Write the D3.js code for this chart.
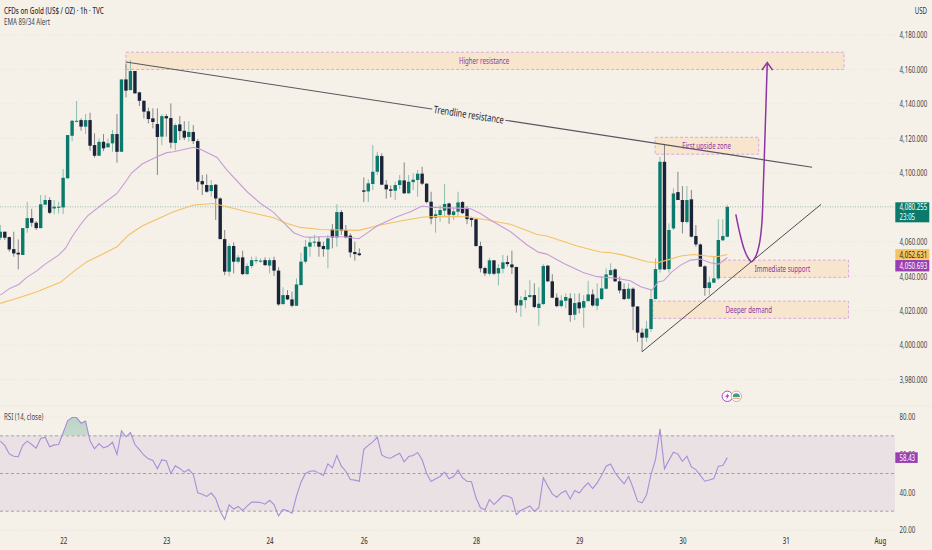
<!DOCTYPE html>
<html>
<head>
<meta charset="utf-8">
<script src="https://cdn.jsdelivr.net/npm/d3@7"></script>
<style>
  html, body { margin: 0; padding: 0; background: #f5f1e8; }
  svg { display: block; }
  text { font-family: "Noto Sans", sans-serif; }
</style>
</head>
<body>
<svg id="chart" width="932" height="550"></svg>
<script>
// candle data, one hour per slot
const opens = [4062.3,4065.8,4062.7,4055.7,4053.6,4052.3,4067.9,4073.7,4071.0,4067.9,
  4081.5,4084.2,4079.3,4079.7,4079.9,4096.8,4121.5,4129.7,4130.6,4126.8,
  4130.6,4116.1,4109.9,4118.0,4114.8,4117.1,4122.5,4112.2,4154.2,4148.0,
  4159.1,4146.7,4141.8,4135.7,4131.6,4128.3,4121.0,4132.9,4131.8,4117.3,
  4128.1,4124.4,4120.8,4123.7,4118.4,4095.2,4092.9,4089.4,4093.1,4085.1,
  4061.5,4042.6,4057.5,4048.4,4050.9,4041.2,4045.9,4049.0,4048.4,4049.3,
  4046.1,4049.3,4043.2,4023.8,4029.0,4026.5,4022.8,4034.8,4048.4,4057.1,
  4059.4,4060.0,4057.5,4055.5,4067.3,4062.5,4077.2,4066.8,4063.5,4054.0,
  4053.2,4089.8,4089.2,4093.5,4100.6,4109.7,4093.1,4090.4,4089.6,4092.9,
  4095.6,4088.1,4094.6,4095.8,4099.5,4093.7,4083.2,4073.9,4075.5,4078.0,
  4082.2,4075.5,4077.4,4083.0,4079.5,4073.7,4073.0,4057.5,4044.7,4041.4,
  4049.2,4041.6,4044.3,4048.2,4046.8,4045.3,4023.0,4026.1,4027.9,4029.0,
  4021.5,4023.8,4046.1,4037.0,4027.5,4022.6,4025.7,4027.1,4017.6,4024.8,
  4021.7,4025.5,4029.4,4022.8,4026.7,4032.7,4040.6,4043.9,4037.0,4032.5,
  4026.9,4032.7,4022.4,4007.2,4004.3,4009.3,4026.7,4043.9,4106.4,4044.1,
  4067.7,4088.8,4084.2,4071.4,4084.6,4063.3,4058.4,4045.7,4033.1,4036.2,
  4038.7,4060.8,4062.9]
const closes = [4065.8,4062.3,4055.5,4053.2,4052.6,4067.9,4073.7,4071.0,4067.9,4081.7,
  4084.2,4076.8,4080.3,4080.3,4097.1,4121.9,4130.2,4130.2,4126.8,4130.6,
  4115.7,4109.9,4118.0,4114.2,4117.1,4122.5,4112.2,4154.2,4147.7,4159.1,
  4146.1,4141.8,4135.5,4131.2,4129.5,4120.8,4132.9,4131.6,4117.5,4127.7,
  4124.2,4120.4,4123.7,4118.4,4094.8,4093.3,4089.0,4092.9,4085.1,4061.5,
  4042.6,4057.5,4048.4,4050.9,4041.2,4045.9,4049.3,4049.3,4049.0,4046.4,
  4049.3,4043.2,4023.6,4029.0,4026.5,4022.8,4035.2,4048.4,4057.1,4059.6,
  4060.0,4057.1,4055.7,4061.9,4062.5,4077.2,4066.4,4062.5,4053.8,4052.8,
  4052.2,4089.0,4093.9,4100.6,4109.9,4093.1,4090.4,4089.6,4092.9,4095.6,
  4088.1,4094.8,4096.0,4099.5,4093.7,4083.0,4073.5,4075.9,4078.4,4081.9,
  4075.7,4077.6,4082.8,4076.6,4073.1,4072.6,4057.5,4044.5,4041.6,4049.2,
  4041.4,4044.7,4048.0,4047.0,4045.1,4023.0,4026.1,4027.9,4029.0,4022.1,
  4024.0,4045.9,4037.0,4027.5,4022.6,4025.9,4027.9,4017.4,4024.4,4021.3,
  4025.5,4029.4,4023.0,4027.1,4032.9,4041.0,4043.5,4037.0,4031.7,4026.7,
  4032.7,4022.3,4007.2,4004.3,4009.5,4026.7,4044.1,4106.4,4043.9,4066.8,
  4088.0,4084.2,4071.4,4084.2,4062.9,4058.4,4045.5,4033.1,4036.4,4038.7,
  4061.0,4063.3,4080.2]
const highs = [4069.7,4065.8,4062.9,4065.8,4061.3,4067.9,4083.2,4079.1,4072.0,4087.1,
  4087.1,4085.7,4084.2,4083.2,4102.2,4121.9,4130.6,4141.7,4131.6,4134.1,
  4134.9,4122.9,4120.0,4122.5,4120.0,4124.8,4134.1,4154.2,4163.5,4165.5,
  4159.1,4147.1,4142.2,4137.8,4137.4,4137.4,4134.1,4134.1,4140.3,4128.7,
  4132.9,4130.0,4130.0,4127.7,4119.6,4098.7,4099.1,4095.8,4093.5,4085.7,
  4066.8,4059.0,4059.6,4052.3,4054.8,4047.4,4051.3,4051.3,4050.3,4050.9,
  4050.7,4051.3,4045.1,4033.5,4031.9,4031.0,4038.7,4053.6,4061.0,4062.9,
  4064.0,4062.9,4060.0,4063.9,4070.2,4081.7,4078.4,4069.7,4064.8,4060.0,
  4056.1,4097.3,4096.2,4116.1,4112.2,4111.3,4095.8,4092.7,4094.8,4098.7,
  4106.0,4098.7,4099.7,4101.6,4103.5,4093.9,4089.0,4078.4,4081.3,4093.5,
  4082.6,4079.3,4089.0,4083.6,4080.7,4074.5,4073.5,4060.0,4045.5,4050.7,
  4049.2,4047.0,4052.3,4051.9,4054.8,4045.5,4028.4,4031.9,4037.7,4035.8,
  4033.5,4047.0,4046.4,4041.2,4030.0,4029.0,4030.0,4030.0,4030.0,4030.0,
  4029.0,4037.3,4032.3,4035.8,4039.7,4044.5,4047.4,4044.5,4039.7,4035.8,
  4035.8,4033.5,4022.6,4009.7,4014.1,4031.9,4050.3,4109.3,4116.1,4070.6,
  4091.0,4100.6,4092.3,4092.3,4090.0,4069.7,4059.0,4046.4,4039.7,4051.3,
  4073.0,4073.0,4081.3]
const lows = [4061.0,4061.0,4054.2,4051.3,4043.9,4052.3,4065.2,4068.7,4066.8,4067.7,
  4081.3,4076.0,4076.0,4076.4,4076.0,4096.8,4118.4,4129.3,4124.4,4122.5,
  4112.8,4108.8,4109.9,4112.6,4114.8,4112.2,4105.9,4112.2,4143.8,4148.0,
  4146.1,4138.8,4131.6,4128.7,4125.8,4098.7,4116.1,4121.0,4114.2,4113.2,
  4119.0,4119.0,4118.0,4116.7,4090.0,4087.1,4088.4,4086.1,4072.6,4061.5,
  4040.6,4040.1,4041.6,4047.4,4040.6,4040.6,4044.5,4047.4,4047.8,4045.9,
  4041.6,4040.1,4022.8,4023.2,4026.1,4021.9,4022.8,4034.8,4047.4,4051.3,
  4057.1,4051.3,4051.3,4044.5,4056.1,4057.1,4063.9,4061.9,4050.9,4049.0,
  4051.7,4083.0,4083.0,4090.0,4098.7,4092.9,4085.0,4085.8,4084.2,4090.6,
  4087.7,4087.7,4090.0,4086.1,4092.9,4082.2,4070.1,4065.2,4071.6,4074.5,
  4070.4,4072.6,4074.5,4076.0,4070.2,4068.7,4057.1,4042.2,4040.1,4040.4,
  4040.6,4034.6,4041.6,4045.5,4041.2,4018.8,4016.4,4021.3,4027.1,4021.3,
  4011.2,4023.2,4036.6,4027.1,4021.9,4021.9,4021.3,4013.5,4014.5,4018.4,
  4010.1,4025.2,4022.3,4020.3,4026.1,4032.3,4040.3,4036.6,4030.0,4026.1,
  4026.5,4008.7,4001.9,3996.1,4001.9,4007.7,4026.5,4042.0,4043.5,4042.0,
  4066.8,4084.2,4064.8,4070.6,4062.5,4057.1,4045.5,4028.6,4029.0,4035.8,
  4037.7,4060.4,4062.5]

// moving averages: candle slot and value
const ema34Slot = [0,2.1,4.1,5.9,8.2,10,13,14.5,16,17.8,19.5,22.3,26,27.9,29.3,31.6,34.9,37.1,38.6,43.1,
  44.6,48.3,50.5,55,58,60.9,62.8,65.4,67.6,69.1,71.3,76.5,79.9,81.4,84,88.4,91.4,94,96.6,101.8,
  104.8,107,109.2,113.7,117.4,120,121.8,125.6,130,133,136,137.4,140.4,142.7,145.2,146.7,147.8,149.7,151.6,153.8,
  156,158.2,160.1,162]
const ema34 = [4029.0,4032.9,4035.2,4039.3,4043.2,4047.0,4052.2,4056.1,4062.9,4069.7,4075.1,4080.9,4088.0,4094.8,4100.0,4105.1,4109.3,4111.7,4112.2,4114.8,
  4113.6,4108.9,4101.6,4089.0,4082.2,4077.0,4072.0,4065.2,4062.9,4062.5,4062.9,4062.9,4061.7,4064.4,4069.3,4074.5,4077.4,4080.7,4079.9,4079.5,
  4079.1,4076.4,4072.6,4065.8,4058.1,4053.8,4052.8,4047.4,4042.0,4039.7,4039.1,4038.7,4037.3,4033.9,4031.9,4036.8,4037.3,4042.6,4046.4,4049.3,
  4049.9,4047.8,4047.0,4050.7]
const ema89Slot = [0,4.1,8.2,13.4,16.3,19.3,22.3,26,28.6,31.6,34.9,38.6,43.1,47.5,50.5,55,60.9,63.9,66.9,71.3,
  79.9,84.7,89.2,94.3,98.8,104,108.5,113.7,119.6,121.8,128.5,133.7,136,138.9,144.1,146.4,148.6,151.6,154.5,157.5,
  159.7,162]
const ema89 = [4024.2,4027.5,4031.0,4036.4,4042.6,4048.4,4052.2,4057.1,4063.9,4069.1,4073.0,4077.4,4081.3,4082.2,4080.3,4077.4,4073.9,4070.6,4068.3,4067.1,
  4066.6,4069.7,4072.0,4074.3,4074.7,4074.5,4072.6,4070.1,4064.2,4063.3,4057.5,4054.0,4053.6,4052.2,4048.4,4047.8,4049.3,4051.7,4052.6,4051.7,
  4051.3,4052.6]

// RSI, one value per candle
const rsi = [67.2,64.9,60.4,59.2,58.9,65,67.2,65.4,63.5,68.6,
  69.3,64.2,65.2,65.4,71.6,78,79.7,79.7,76.7,77.8,
  67.2,63.1,65.9,63.6,64.5,66.6,60.1,72.7,69.5,71.8,
  65.4,62.7,59.7,57.8,56.9,52.5,57.3,56.7,50,54.1,
  52.7,50.7,52.1,49.5,39.7,39,37.8,39.6,36.7,30,
  25.6,33.4,31.1,32.5,30.4,32.7,34.8,34.8,34.6,33.7,
  35.8,33.5,27.5,30.9,30.2,28.9,38,45.4,50,51.2,
  51.4,50.2,48.9,55.1,53,59.6,53.9,51.2,46.8,46.5,
  45.9,62.9,64.9,66.8,69.3,59.9,58.5,58.1,59.6,60.8,
  56.2,59,59.6,61.2,57.3,50,45.8,47.2,48.4,50.7,
  47.2,48.4,51.8,47.7,45.9,45.6,37.1,31.8,30.7,36.2,
  33.5,35.8,38.3,38,36.9,28.1,30.4,31.6,32.8,30,
  31.8,47.7,43.3,39.2,37.4,39.7,40.8,36.5,41,39.6,
  42.6,45,42,45,49.1,53.9,55.1,50.4,47.3,44.5,
  48.4,42.4,35.3,34.4,38.5,49.5,57.4,73.7,52.5,57.1,
  61.3,60.3,56.5,59.2,53.5,52.1,48.9,45.9,46.6,47.3,
  53.9,54.2,58.43]

// axes
const priceTicks = [3980,4000,4020,4040,4060,4100,4120,4140,4160,4180]
const rsiTicks = [20,40,60,80]
const rsiBands = [30,50,70]
const dayTicks = [14,37,60,81,106,129,152,175,196]
const dayLabels = ['22','23','24','26','28','29','30','31','Aug']

// drawings on the chart
const zoneNames = ['Higher resistance','First upside zone','Immediate support','Deeper demand']
const zoneStart = [28,145.9,159.9,145.4]
const zoneEnd = [188,169,189,189]
const zoneTop = [4170,4120.6,4049.3,4025.5]
const zoneBottom = [4160,4110.8,4039.3,4015.5]
const zoneLabelSlot = [107.8,157.4,174.3,166.8]

const resistanceSlot = [28,180.9]
const resistancePrice = [4164.3,4103.2]
const supportSlot = [143,182.9]
const supportPrice = [3996.1,4081.7]

const pathSlot = [163.9,164.8,165.7,166.7,167.4,168.3,169.1,169.7,170,170.3,170.6,170.9]
const pathPrice = [4075.9,4064.8,4056.1,4050.3,4048.4,4051.3,4058.1,4070.6,4090,4113.2,4138.4,4163.5]
const arrowSlot = [169.7,170.9,172.1]
const arrowPrice = [4159.6,4164,4159.6]

const lastPrice = 4080.255
const ema89Last = 4052.631
const ema34Last = 4050.693
const rsiLast = 58.43

const bg = '#f5f1e8'
const green = '#0b7a6c'
const dark = '#1b2339'
const purple = '#8d35a6'
const tagPurple = '#9a3fb3'
const tagYellow = '#f6c362'
const axisText = '#3b3e46'
const paneRight = 895
const axisX = 899.5
const fmtPrice = d3.format(',.3f')

const svg = d3.select('#chart')
svg.append('rect').attr('width', 932).attr('height', 550).attr('fill', bg)

const x = d3.scaleLinear().domain([0, 162]).range([0.3, 727.3])
const y = d3.scaleLinear().domain([3980, 4180]).range([379.5, 35])
const yRsi = d3.scaleLinear().domain([20, 80]).range([530, 417])

// price gridlines
svg.append('g').selectAll('line').data(priceTicks).join('line')
  .attr('x1', 0).attr('x2', paneRight)
  .attr('y1', d => y(d)).attr('y2', d => y(d))
  .attr('stroke', '#e7e4db').attr('stroke-dasharray', '1,2')

// zones go under the candles
const zones = svg.append('g')
zoneNames.forEach((name, i) => {
  zones.append('rect')
    .attr('x', x(zoneStart[i]))
    .attr('y', y(zoneTop[i]))
    .attr('width', x(zoneEnd[i]) - x(zoneStart[i]))
    .attr('height', y(zoneBottom[i]) - y(zoneTop[i]))
    .attr('fill', '#f7e6cd')
    .attr('stroke', '#d9a9dc')
    .attr('stroke-dasharray', '3,2')
})

// last price line
svg.append('line')
  .attr('x1', 0).attr('x2', paneRight)
  .attr('y1', y(lastPrice)).attr('y2', y(lastPrice))
  .attr('stroke', '#9dbdb1').attr('stroke-dasharray', '1,1.5')

// candles
const slots = d3.range(opens.length)
const isUp = i => closes[i] >= opens[i]
const candles = svg.append('g')
candles.selectAll('line').data(slots).join('line')
  .attr('x1', i => x(i)).attr('x2', i => x(i))
  .attr('y1', i => y(highs[i])).attr('y2', i => y(lows[i]))
  .attr('stroke', i => isUp(i) ? '#8dbbb0' : '#85868a')
  .attr('stroke-width', 1)
candles.selectAll('rect').data(slots).join('rect')
  .attr('x', i => x(i) - 1.7)
  .attr('width', 3.4)
  .attr('y', i => y(Math.max(opens[i], closes[i])))
  .attr('height', i => Math.max(1, Math.abs(y(opens[i]) - y(closes[i]))))
  .attr('fill', i => isUp(i) ? green : dark)

// moving averages
const emaLine = d3.line().x(d => x(d[0])).y(d => y(d[1]))
svg.append('path')
  .attr('d', emaLine(d3.zip(ema89Slot, ema89)))
  .attr('fill', 'none').attr('stroke', '#f5c064').attr('stroke-width', 1.1)
svg.append('path')
  .attr('d', emaLine(d3.zip(ema34Slot, ema34)))
  .attr('fill', 'none').attr('stroke', '#c79bd9').attr('stroke-width', 1.1)

// trendlines
svg.append('path').attr('d', emaLine(d3.zip(resistanceSlot, resistancePrice)))
  .attr('fill', 'none').attr('stroke', '#55575f').attr('stroke-width', 1.1)
svg.append('path').attr('d', emaLine(d3.zip(supportSlot, supportPrice)))
  .attr('fill', 'none').attr('stroke', '#4b4d55').attr('stroke-width', 1)

// trendline label sits on the line, with a gap cut out of it
const angle = Math.atan2(y(resistancePrice[1]) - y(resistancePrice[0]), x(resistanceSlot[1]) - x(resistanceSlot[0])) * 180 / Math.PI
const labelSlot = 104.4
const labelPrice = d3.scaleLinear().domain(resistanceSlot).range(resistancePrice)(labelSlot)
const trendLabel = svg.append('g')
  .attr('transform', 'translate(' + x(labelSlot) + ',' + y(labelPrice) + ') rotate(' + angle + ')')
trendLabel.append('rect').attr('x', -37).attr('y', -6).attr('width', 74).attr('height', 12).attr('fill', bg)
trendLabel.append('text')
  .attr('class', 'trend')
  .attr('text-anchor', 'middle').attr('dy', '0.35em')
  .attr('font-size', 10.5).attr('fill', '#23262f')
  .text('Trendline resistance')

// zone labels
zoneNames.forEach((name, i) => {
  svg.append('text')
    .attr('x', x(zoneLabelSlot[i]))
    .attr('y', y((zoneTop[i] + zoneBottom[i]) / 2))
    .attr('dy', '0.35em')
    .attr('text-anchor', 'middle')
    .attr('font-size', 9)
    .attr('fill', purple)
    .text(name)
})

// projected path
const pathLine = d3.line().x(d => x(d[0])).y(d => y(d[1])).curve(d3.curveCatmullRom)
svg.append('path').attr('d', pathLine(d3.zip(pathSlot, pathPrice)))
  .attr('fill', 'none').attr('stroke', purple).attr('stroke-width', 1.5)
svg.append('path').attr('d', emaLine(d3.zip(arrowSlot, arrowPrice)))
  .attr('fill', 'none').attr('stroke', purple).attr('stroke-width', 1.5)

// event icons
const icons = svg.append('g').attr('transform', 'translate(' + x(162) + ',' + (y(3980) + 16.8) + ')')
icons.append('circle').attr('cx', 0).attr('r', 5.2).attr('fill', '#fff').attr('stroke', '#a646bd').attr('stroke-width', 1)
icons.append('path').attr('d', 'M1,-3.6 L-2,0.8 L-0.3,0.8 L-1,3.6 L2,-1 L0.3,-1 Z').attr('fill', '#a646bd')
icons.append('circle').attr('cx', 9).attr('r', 5.2).attr('fill', '#fff').attr('stroke', '#e9a27c').attr('stroke-width', 1)
icons.append('path').attr('d', 'M5.4,0.6 A3.6,3.6 0 0 1 12.6,0.6 Z').attr('fill', '#3e9a8e')
icons.append('rect').attr('x', 5.6).attr('y', 1.4).attr('width', 6.8).attr('height', 1.2).attr('fill', '#e9a27c')

// price axis
const priceAxis = d3.axisRight(y).tickValues(priceTicks).tickSize(0).tickPadding(0).tickFormat(fmtPrice)
const priceG = svg.append('g').attr('transform', 'translate(' + axisX + ',0)').call(priceAxis)
priceG.select('.domain').remove()
priceG.selectAll('text').attr('font-size', 9).attr('fill', axisText).style('font-family', '"Noto Sans", sans-serif')

// RSI pane
svg.append('rect')
  .attr('x', 0).attr('y', yRsi(70))
  .attr('width', paneRight).attr('height', yRsi(30) - yRsi(70))
  .attr('fill', '#eae1e5')
svg.append('g').selectAll('line').data(rsiTicks).join('line')
  .attr('x1', 0).attr('x2', paneRight)
  .attr('y1', d => yRsi(d)).attr('y2', d => yRsi(d))
  .attr('stroke', '#e4e0da').attr('stroke-dasharray', '1,2')
svg.append('g').selectAll('line').data(rsiBands).join('line')
  .attr('x1', 0).attr('x2', paneRight)
  .attr('y1', d => yRsi(d)).attr('y2', d => yRsi(d))
  .attr('stroke', '#a3a0a3').attr('stroke-dasharray', '3,2.5')

// overbought shading
const defs = svg.append('defs')
const grad = defs.append('linearGradient').attr('id', 'obFill').attr('x1', 0).attr('x2', 0).attr('y1', 0).attr('y2', 1)
grad.append('stop').attr('offset', '0%').attr('stop-color', '#a9ccbc').attr('stop-opacity', 0.75)
grad.append('stop').attr('offset', '100%').attr('stop-color', '#a9ccbc').attr('stop-opacity', 0.05)
defs.append('clipPath').attr('id', 'obClip').append('rect')
  .attr('x', 0).attr('y', yRsi(80)).attr('width', paneRight).attr('height', yRsi(70) - yRsi(80))
svg.append('path')
  .attr('d', d3.area().x((d, i) => x(i)).y0(yRsi(70)).y1(d => yRsi(d))(rsi))
  .attr('fill', 'url(#obFill)').attr('clip-path', 'url(#obClip)')
svg.append('path')
  .attr('d', d3.line().x((d, i) => x(i)).y(d => yRsi(d))(rsi))
  .attr('fill', 'none').attr('stroke', '#ab8dd6').attr('stroke-width', 1.1)

const rsiAxis = d3.axisRight(yRsi).tickValues(rsiTicks).tickSize(0).tickPadding(0).tickFormat(d3.format('.2f'))
const rsiG = svg.append('g').attr('transform', 'translate(' + axisX + ',0)').call(rsiAxis)
rsiG.select('.domain').remove()
rsiG.selectAll('text').attr('font-size', 9).attr('fill', axisText).style('font-family', '"Noto Sans", sans-serif')

// date strip covers the bottom of the 20.00 label
svg.append('rect').attr('x', 0).attr('y', 533).attr('width', 932).attr('height', 17).attr('fill', bg)
svg.append('line').attr('x1', 0).attr('x2', 932).attr('y1', 406).attr('y2', 406).attr('stroke', '#efebe2')

const dayAxis = d3.axisBottom(x).tickValues(dayTicks).tickSize(0).tickPadding(0)
  .tickFormat((d, i) => dayLabels[i])
const dayG = svg.append('g').attr('transform', 'translate(0,537.5)').call(dayAxis)
dayG.select('.domain').remove()
dayG.selectAll('text').attr('font-size', 9).attr('font-weight', 500).attr('fill', axisText).style('font-family', '"Noto Sans", sans-serif')

// value tags on the right
const drawTag = function (top, height, width, fill, color, lines) {
  svg.append('rect')
    .attr('x', 895.3).attr('y', top)
    .attr('width', width).attr('height', height)
    .attr('fill', fill)
  lines.forEach((t, i) => {
    svg.append('text')
      .attr('x', axisX)
      .attr('y', top + height / (2 * lines.length) + i * (height / lines.length))
      .attr('dy', '0.35em')
      .attr('font-size', 9)
      .attr('fill', color)
      .text(t)
  })
}
drawTag(y(lastPrice) - 4.5, 20, 34, green, '#fff', [fmtPrice(lastPrice), '23:05'])
drawTag(y(ema89Last) - 5.3, 10.6, 34, tagYellow, '#2a2410', [fmtPrice(ema89Last)])
drawTag(y(ema34Last) + 2.3, 11.4, 34, tagPurple, '#fff', [fmtPrice(ema34Last)])
drawTag(yRsi(rsiLast) - 5.3, 10.6, 22.4, tagPurple, '#fff', [d3.format('.2f')(rsiLast)])

// legends
svg.append('text').attr('x', 4).attr('y', 14).attr('font-size', 9.2).attr('font-weight', 500).attr('fill', '#2b2e38')
  .text('CFDs on Gold (US$ / OZ) · 1h · TVC')
svg.append('text').attr('x', 4).attr('y', 25.5).attr('font-size', 9).attr('fill', '#44464e')
  .text('EMA 89/34 Alert')
svg.append('text').attr('x', 4).attr('y', 420).attr('font-size', 9).attr('fill', '#44464e')
  .text('RSI (14, close)')
svg.append('text').attr('x', 927).attr('y', 14).attr('text-anchor', 'end').attr('font-size', 9).attr('fill', '#2b2e38')
  .text('USD')

// the reference text is narrow, so squeeze every label sideways about its own x
svg.selectAll('text').each(function () {
  const ratio = this.getAttribute('class') === 'trend' ? 0.72 : 0.68
  const x0 = +this.getAttribute('x') || 0
  this.setAttribute('transform', 'translate(' + x0 + ',0) scale(' + ratio + ',1) translate(' + (-x0) + ',0)')
})
</script>
</body>
</html>
